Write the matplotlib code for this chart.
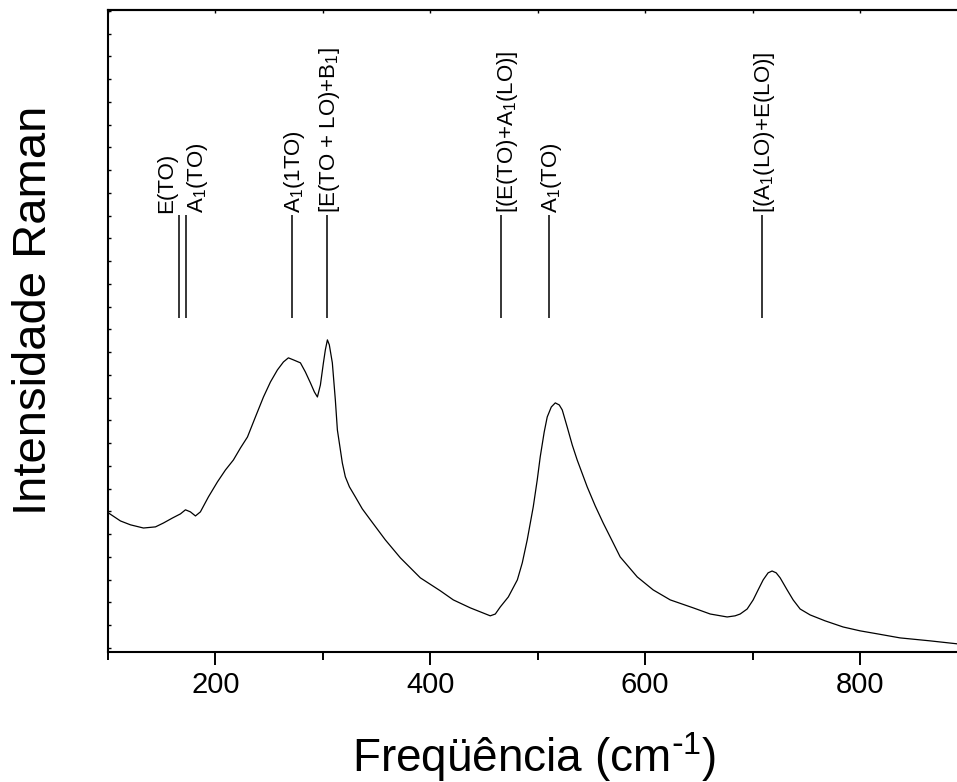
import matplotlib
matplotlib.use("Agg")
import matplotlib.pyplot as plt
import matplotlib.transforms as mtransforms
from matplotlib.ticker import MultipleLocator, NullFormatter

plt.rcParams["font.family"] = ["Liberation Sans", "DejaVu Sans"]
plt.rcParams["mathtext.default"] = "regular"

# Raman spectrum (cm-1, arbitrary units)
freq = [
    100.5, 111.6, 120.9, 133.0, 144.2, 151.6, 160.0, 167.4, 172.1, 176.7,
    181.4, 186.0, 193.5, 201.9, 209.3, 216.7, 223.3, 229.8, 237.2, 244.7,
    251.2, 257.7, 263.3, 267.9, 272.6, 279.1, 283.7, 288.4, 292.1, 294.9,
    297.7, 300.5, 302.3, 304.2, 306.0, 308.8, 311.6, 313.5, 316.3, 318.1,
    320.9, 324.7, 330.2, 336.7, 344.2, 358.1, 372.1, 390.7, 409.3, 421.4,
    437.2, 455.8, 460.5, 465.1, 472.6, 481.0, 485.6, 490.2, 495.8, 499.5,
    502.3, 506.0, 508.8, 512.6, 516.3, 520.0, 522.8, 527.4, 532.1, 536.7,
    546.0, 553.5, 560.9, 569.3, 576.7, 592.6, 607.4, 623.3, 644.7, 660.5,
    676.3, 683.7, 688.4, 694.9, 700.5, 705.1, 709.8, 714.4, 718.1, 721.9,
    725.6, 732.1, 737.7, 744.2, 753.5, 767.4, 784.2, 800.0, 815.8, 837.2,
    865.1, 890.2,
]
intensity = [
    5.93, 5.58, 5.41, 5.27, 5.32, 5.49, 5.71, 5.89, 6.07, 5.98,
    5.80, 5.98, 6.64, 7.30, 7.82, 8.26, 8.79, 9.27, 10.15, 11.03,
    11.69, 12.22, 12.57, 12.75, 12.66, 12.53, 12.13, 11.65, 11.25, 11.03,
    11.56, 12.53, 13.10, 13.54, 13.32, 12.53, 10.90, 9.58, 8.70, 8.13,
    7.52, 7.08, 6.64, 6.11, 5.63, 4.75, 3.96, 3.08, 2.51, 2.11,
    1.76, 1.41, 1.49, 1.80, 2.24, 2.99, 3.74, 4.75, 6.20, 7.38,
    8.40, 9.49, 10.15, 10.59, 10.77, 10.68, 10.46, 9.71, 8.92, 8.26,
    7.08, 6.24, 5.49, 4.70, 4.00, 3.12, 2.55, 2.11, 1.76, 1.49,
    1.36, 1.41, 1.49, 1.71, 2.11, 2.55, 2.99, 3.30, 3.38, 3.30,
    3.08, 2.55, 2.11, 1.71, 1.45, 1.19, 0.92, 0.75, 0.62, 0.44,
    0.31, 0.18,
]

# mode assignments (cm-1)
mode_pos = [166, 173, 271, 304, 466, 510, 709]
mode_labels = [
    "E(TO)",
    "A$_1$(TO)",
    "A$_1$(1TO)",
    "[E(TO + LO)+B$_1$]",
    "[(E(TO)+A$_1$(LO)]",
    "A$_1$(TO)",
    "[(A$_1$(LO)+E(LO)]",
]
# sideways nudge of each label in pixels so they don't collide
label_shift = [-12, 11, 3, 2, 6, 3, 2]

fig = plt.figure(figsize=(9.57, 7.82), dpi=100)
ax = fig.add_axes([108 / 957, 130 / 782, 852 / 957, 642 / 782])

ax.plot(freq, intensity, color="black", lw=0.9)

line_lo, line_hi = 14.51, 19.03
ax.vlines(mode_pos, line_lo, line_hi, color="black", lw=1.1)
for xpos, lab, dx in zip(mode_pos, mode_labels, label_shift):
    trans = ax.transData + mtransforms.ScaledTranslation(dx / 100, 0, fig.dpi_scale_trans)
    ax.text(xpos, line_hi + 0.1, lab, rotation=90, ha="center", va="bottom",
            fontsize=16, transform=trans)

ax.set_xlim(100, 893)
ax.set_ylim(-0.18, 28.04)

ax.xaxis.set_major_locator(MultipleLocator(200))
ax.xaxis.set_minor_locator(MultipleLocator(100))
ax.tick_params(axis="x", which="major", direction="out", length=9, width=1.4,
               labelsize=21, pad=5)
ax.tick_params(axis="x", which="minor", direction="out", length=5.5, width=1.4)

ax.yaxis.set_major_locator(MultipleLocator(1))
ax.yaxis.set_major_formatter(NullFormatter())
ax.tick_params(axis="y", which="major", direction="in", length=2.5, width=1)

# little inward ticks on the top spine
top = ax.secondary_xaxis("top")
top.xaxis.set_major_locator(MultipleLocator(100))
top.tick_params(direction="in", length=2.5, width=1, labeltop=False)

for side in ["left", "bottom", "top"]:
    ax.spines[side].set_linewidth(1.5)
top.spines["top"].set_linewidth(1.5)
ax.spines["right"].set_visible(False)

ax.set_xlabel("Freqüência (cm$^{\\text{-}1}$)", fontsize=33, labelpad=22)
ax.set_ylabel("Intensidade Raman", fontsize=34)
ax.yaxis.set_label_coords(-0.061, 0.533)

fig.savefig("out.png", dpi=100)
